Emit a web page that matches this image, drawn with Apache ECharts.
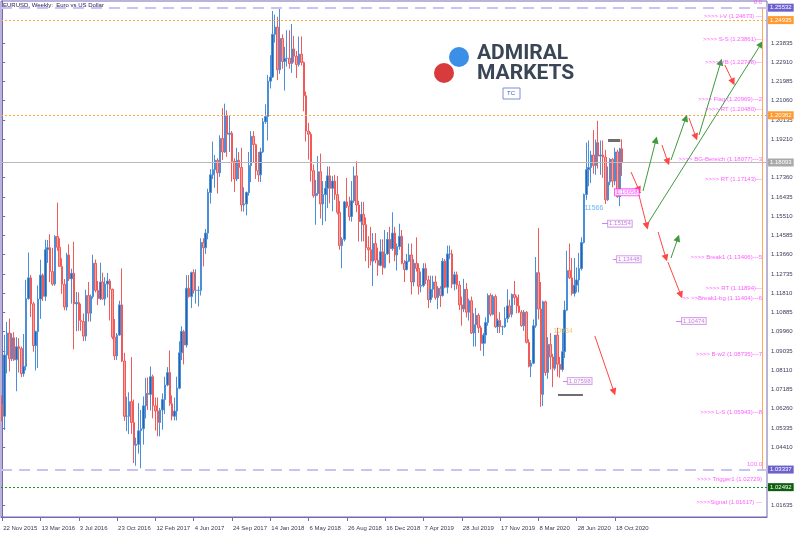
<!DOCTYPE html>
<html><head><meta charset="utf-8">
<script src="https://cdn.jsdelivr.net/npm/echarts@6/dist/echarts.min.js"></script>
<style>html,body{margin:0;padding:0;background:#fff}#c{width:800px;height:536px}</style>
</head><body><div id="c"></div>
<script>
// ---------- DATA ----------
const MONTHS=['Jan','Feb','Mar','Apr','May','Jun','Jul','Aug','Sep','Oct','Nov','Dec'];
const categories=[];
for(let i=0;i<320;i++){const d=new Date(Date.UTC(2015,10,22+7*i));categories.push(d.getUTCDate()+' '+MONTHS[d.getUTCMonth()]+' '+d.getUTCFullYear());}
const xTickLabels=['22 Nov 2015','13 Mar 2016','3 Jul 2016','23 Oct 2016','12 Feb 2017','4 Jun 2017','24 Sep 2017','14 Jan 2018','6 May 2018','26 Aug 2018','16 Dec 2018','7 Apr 2019','28 Jul 2019','17 Nov 2019','8 Mar 2020','28 Jun 2020','18 Oct 2020'];
const yTickValues=[1.01635,1.04410,1.05335,1.06260,1.07185,1.08110,1.09035,1.09960,1.10885,1.11810,1.12735,1.13660,1.14585,1.15510,1.16435,1.17360,1.19210,1.20135,1.21060,1.21985,1.22910,1.23835];

const opens=[
1.0646,1.0590,1.0884,1.0990,1.0866,1.0967,1.0861,1.0924,1.0915,1.0795,
1.0830,1.1155,1.1255,1.1130,1.0930,1.0997,1.1153,1.1268,1.1166,1.1390,
1.1400,1.1285,1.1225,1.1454,1.1402,1.1310,1.1224,1.1115,1.1365,1.1250,
1.1277,1.1130,1.1137,1.1050,1.1045,1.0975,1.1170,1.1085,1.1165,1.1325,
1.1195,1.1155,1.1235,1.1154,1.1225,1.1240,1.1200,1.0970,1.0880,1.0980,
1.1125,1.0855,1.0590,1.0590,1.0660,1.0560,1.0450,1.0455,1.0520,1.0530,
1.0640,1.0700,1.0695,1.0780,1.0640,1.0615,1.0560,1.0620,1.0670,1.0740,
1.0800,1.0650,1.0590,1.0615,1.0725,1.0895,1.0997,1.0932,1.1205,1.1165,
1.1280,1.1195,1.1195,1.1195,1.1425,1.1400,1.1470,1.1665,1.1750,1.1775,
1.1820,1.1760,1.1925,1.1860,1.2035,1.1945,1.1950,1.1815,1.1730,1.1820,
1.1785,1.1605,1.1610,1.1665,1.1795,1.1935,1.1895,1.1770,1.1750,1.1860,
1.2005,1.2030,1.2200,1.2220,1.2425,1.2460,1.2255,1.2405,1.2295,1.2310,
1.2310,1.2285,1.2355,1.2320,1.2280,1.2330,1.2290,1.2130,1.1960,1.1945,
1.1770,1.1650,1.1660,1.1765,1.1610,1.1655,1.1685,1.1745,1.1685,1.1720,
1.1655,1.1570,1.1410,1.1440,1.1620,1.1600,1.1550,1.1625,1.1745,1.1605,
1.1525,1.1560,1.1510,1.1400,1.1390,1.1335,1.1420,1.1340,1.1315,1.1380,
1.1305,1.1370,1.1440,1.1395,1.1470,1.1365,1.1405,1.1455,1.1325,1.1295,
1.1335,1.1365,1.1235,1.1325,1.1300,1.1215,1.1218,1.1300,1.1245,1.1150,
1.1200,1.1235,1.1160,1.1205,1.1170,1.1335,1.1210,1.1370,1.1370,1.1225,
1.1270,1.1220,1.1125,1.1105,1.1200,1.1090,1.1145,1.0990,1.1030,1.1075,
1.1015,1.0940,1.0980,1.1040,1.1170,1.1080,1.1165,1.1020,1.1050,1.1020,
1.1020,1.1060,1.1120,1.1080,1.1175,1.1160,1.1120,1.1090,1.1025,1.1090,
1.0945,1.0830,1.0845,1.1025,1.1280,1.1105,1.0695,1.1140,1.0800,1.0935,
1.0875,1.0820,1.0980,1.0840,1.0815,1.0900,1.1100,1.1290,1.1255,1.1180,
1.1220,1.1245,1.1300,1.1425,1.1655,1.1775,1.1785,1.1845,1.1795,1.1905,
1.1840,1.1845,1.1835,1.1630,1.1715,1.1825,1.1720,1.1860,1.1645,1.1875];
const closes=[
1.0590,1.0884,1.0990,1.0866,1.0967,1.0861,1.0924,1.0915,1.0795,1.0830,
1.1155,1.1255,1.1130,1.0930,1.0997,1.1153,1.1268,1.1166,1.1390,1.1400,
1.1285,1.1225,1.1454,1.1402,1.1310,1.1224,1.1115,1.1365,1.1250,1.1277,
1.1130,1.1137,1.1050,1.1045,1.0975,1.1170,1.1085,1.1165,1.1325,1.1195,
1.1155,1.1235,1.1154,1.1225,1.1240,1.1200,1.0970,1.0880,1.0980,1.1125,
1.0855,1.0590,1.0590,1.0660,1.0560,1.0450,1.0455,1.0520,1.0530,1.0640,
1.0700,1.0695,1.0780,1.0640,1.0615,1.0560,1.0620,1.0670,1.0740,1.0800,
1.0650,1.0590,1.0615,1.0725,1.0895,1.0997,1.0932,1.1205,1.1165,1.1280,
1.1195,1.1195,1.1195,1.1425,1.1400,1.1470,1.1665,1.1750,1.1775,1.1820,
1.1760,1.1925,1.1860,1.2035,1.1945,1.1950,1.1815,1.1730,1.1820,1.1785,
1.1605,1.1610,1.1665,1.1795,1.1935,1.1895,1.1770,1.1750,1.1860,1.2005,
1.2030,1.2200,1.2220,1.2425,1.2460,1.2255,1.2405,1.2295,1.2310,1.2310,
1.2285,1.2355,1.2320,1.2280,1.2330,1.2290,1.2130,1.1960,1.1945,1.1770,
1.1650,1.1660,1.1765,1.1610,1.1655,1.1685,1.1745,1.1685,1.1720,1.1655,
1.1570,1.1410,1.1440,1.1620,1.1600,1.1550,1.1625,1.1745,1.1605,1.1525,
1.1560,1.1510,1.1400,1.1390,1.1335,1.1420,1.1340,1.1315,1.1380,1.1305,
1.1370,1.1440,1.1395,1.1470,1.1365,1.1405,1.1455,1.1325,1.1295,1.1335,
1.1365,1.1235,1.1325,1.1300,1.1215,1.1218,1.1300,1.1245,1.1150,1.1200,
1.1235,1.1160,1.1205,1.1170,1.1335,1.1210,1.1370,1.1370,1.1225,1.1270,
1.1220,1.1125,1.1105,1.1200,1.1090,1.1145,1.0990,1.1030,1.1075,1.1015,
1.0940,1.0980,1.1040,1.1170,1.1080,1.1165,1.1020,1.1050,1.1020,1.1020,
1.1060,1.1120,1.1080,1.1175,1.1160,1.1120,1.1090,1.1025,1.1090,1.0945,
1.0830,1.0845,1.1025,1.1280,1.1105,1.0695,1.1140,1.0800,1.0935,1.0875,
1.0820,1.0980,1.0840,1.0815,1.0900,1.1100,1.1290,1.1255,1.1180,1.1220,
1.1245,1.1300,1.1425,1.1655,1.1775,1.1785,1.1845,1.1795,1.1905,1.1840,
1.1845,1.1835,1.1630,1.1715,1.1825,1.1720,1.1860,1.1645,1.1875,1.1809];
const highs=[
1.0690,1.0981,1.1043,1.1059,1.0988,1.0994,1.0970,1.0965,1.0925,1.0985,
1.1245,1.1377,1.1268,1.1140,1.1001,1.1218,1.1342,1.1276,1.1438,1.1437,
1.1465,1.1399,1.1460,1.1616,1.1445,1.1349,1.1249,1.1375,1.1416,1.1299,
1.1428,1.1187,1.1185,1.1131,1.1084,1.1198,1.1235,1.1175,1.1366,1.1343,
1.1240,1.1328,1.1280,1.1258,1.1279,1.1250,1.1203,1.1057,1.0990,1.1145,
1.1300,1.0895,1.0684,1.0705,1.0874,1.0670,1.0487,1.0653,1.0620,1.0685,
1.0774,1.0776,1.0829,1.0790,1.0680,1.0680,1.0630,1.0700,1.0780,1.0826,
1.0906,1.0690,1.0680,1.0780,1.0950,1.1022,1.1005,1.1268,1.1268,1.1285,
1.1296,1.1296,1.1215,1.1445,1.1445,1.1490,1.1683,1.1777,1.1910,1.1845,
1.1830,1.1940,1.2070,1.2092,1.2060,1.2035,1.1960,1.1830,1.1880,1.1860,
1.1880,1.1690,1.1670,1.1860,1.1960,1.1960,1.1900,1.1860,1.1880,1.2023,
1.2089,1.2230,1.2325,1.2537,1.2520,1.2510,1.2555,1.2425,1.2365,1.2445,
1.2445,1.2475,1.2418,1.2345,1.2415,1.2415,1.2295,1.2150,1.2000,1.1955,
1.1800,1.1725,1.1840,1.1852,1.1720,1.1720,1.1790,1.1790,1.1745,1.1750,
1.1745,1.1625,1.1450,1.1625,1.1735,1.1645,1.1720,1.1790,1.1815,1.1625,
1.1620,1.1620,1.1545,1.1455,1.1500,1.1470,1.1470,1.1400,1.1440,1.1440,
1.1485,1.1475,1.1500,1.1570,1.1500,1.1420,1.1515,1.1485,1.1340,1.1370,
1.1420,1.1420,1.1345,1.1450,1.1325,1.1285,1.1325,1.1325,1.1265,1.1265,
1.1265,1.1265,1.1215,1.1215,1.1350,1.1345,1.1410,1.1410,1.1390,1.1285,
1.1285,1.1240,1.1165,1.1250,1.1230,1.1155,1.1165,1.1085,1.1110,1.1085,
1.1025,1.0990,1.1065,1.1180,1.1180,1.1175,1.1175,1.1060,1.1090,1.1025,
1.1115,1.1200,1.1150,1.1180,1.1240,1.1170,1.1175,1.1100,1.1100,1.1095,
1.0960,1.0860,1.1055,1.1355,1.1495,1.1235,1.1145,1.1145,1.0970,1.0990,
1.0890,1.0975,1.1015,1.0875,1.1010,1.1145,1.1385,1.1420,1.1350,1.1350,
1.1305,1.1375,1.1450,1.1660,1.1905,1.1915,1.1865,1.1965,1.1920,1.2010,
1.1915,1.1915,1.1870,1.1790,1.1830,1.1830,1.1880,1.1870,1.1880,1.1920];
const lows=[
1.0566,1.0524,1.0796,1.0805,1.0855,1.0856,1.0710,1.0800,1.0778,1.0780,
1.0810,1.1150,1.1067,1.0900,1.0810,1.0822,1.1058,1.1144,1.1144,1.1327,
1.1234,1.1217,1.1217,1.1385,1.1311,1.1178,1.1100,1.1098,1.1240,1.1131,
1.0912,1.0998,1.1000,1.1000,1.0951,1.0952,1.1045,1.1045,1.1155,1.1185,
1.1124,1.1147,1.1150,1.1122,1.1160,1.1050,1.0960,1.0860,1.0860,1.0977,
1.0851,1.0568,1.0518,1.0505,1.0505,1.0365,1.0352,1.0410,1.0340,1.0454,
1.0580,1.0620,1.0617,1.0580,1.0521,1.0494,1.0493,1.0525,1.0600,1.0734,
1.0640,1.0570,1.0570,1.0570,1.0720,1.0860,1.0839,1.0920,1.1160,1.1110,
1.1180,1.1131,1.1118,1.1170,1.1310,1.1370,1.1440,1.1612,1.1730,1.1688,
1.1660,1.1740,1.1822,1.1855,1.1837,1.1860,1.1717,1.1668,1.1720,1.1730,
1.1574,1.1573,1.1555,1.1650,1.1715,1.1810,1.1730,1.1717,1.1715,1.1855,
1.1995,1.1915,1.2165,1.2215,1.2385,1.2205,1.2235,1.2260,1.2155,1.2270,
1.2260,1.2240,1.2290,1.2215,1.2270,1.2275,1.2055,1.1910,1.1823,1.1717,
1.1640,1.1510,1.1650,1.1540,1.1508,1.1527,1.1590,1.1613,1.1575,1.1630,
1.1560,1.1390,1.1301,1.1430,1.1590,1.1530,1.1525,1.1615,1.1570,1.1430,
1.1430,1.1430,1.1335,1.1302,1.1315,1.1216,1.1325,1.1265,1.1310,1.1270,
1.1300,1.1365,1.1325,1.1385,1.1335,1.1290,1.1390,1.1320,1.1235,1.1290,
1.1330,1.1175,1.1215,1.1285,1.1175,1.1185,1.1210,1.1225,1.1110,1.1135,
1.1160,1.1150,1.1105,1.1115,1.1165,1.1205,1.1180,1.1345,1.1205,1.1195,
1.1200,1.1100,1.1025,1.1090,1.1065,1.1050,1.0985,1.0925,1.0925,1.0990,
1.0905,1.0879,1.0940,1.1025,1.1070,1.1075,1.1015,1.0990,1.0990,1.0980,
1.1015,1.1040,1.1065,1.1065,1.1125,1.1085,1.1085,1.1020,1.1000,1.0940,
1.0825,1.0778,1.0840,1.1015,1.1055,1.0635,1.0640,1.0785,1.0770,1.0815,
1.0730,1.0810,1.0780,1.0775,1.0805,1.0870,1.1095,1.1250,1.1170,1.1165,
1.1185,1.1185,1.1290,1.1420,1.1630,1.1695,1.1710,1.1755,1.1750,1.1780,
1.1750,1.1735,1.1610,1.1625,1.1700,1.1690,1.1700,1.1640,1.1600,1.1745];

// horizontal price levels (right-axis tags)
const levelPrices=[1.25532,1.24935,1.20362,1.18093,1.03337,1.02492];
const levelKinds=['fib','orange','orange','price','fib','green'];
// fibonacci level captions
const fibCaptions=['0.0','100.0'];
const fibCaptionPrices=[1.25532,1.03337];
// right-hand annotation texts and their anchor prices
const noteTexts=['>>>> i-V (1.24673) ---','>>>> S-S (1.23861)---','>>>> VB (1.22748)---','>>>> Flag (1.20969)---2','>>>> RT (1.20480)---','>>>> BG-Bereich (1.18077)---3','>>>> RT (1.17143)---','>>>> Break1 (1.13406)---5','>>>> RT (1.11894)---','>> >>Break1-bg (1.11404)---6','>>>> B-w2 (1.08735)---7','>>>> L-S (1.05943)---8','>>>> Trigger1 (1.02729)','>>>>Signal (1.01617) ---'];
const notePrices=[1.2499,1.23861,1.22748,1.20969,1.20480,1.18077,1.17143,1.13406,1.11894,1.11404,1.08735,1.05943,1.02729,1.01617];
// boxed price labels: price, week position of box, leading-line start/end
const boxPrices=[1.16658,1.15154,1.13448,1.10474,1.07598];
const boxWeek=[256.0,253.1,256.8,284.0,236.3];
const boxLineFrom=[264.3,250.6,255.1,281.5,234.3];
const boxLineTo=[266.8,253.1,256.8,284.0,236.3];
// free texts
const freeTexts=['11566','10934'];
const freeWeek=[247.2,234.3];
const freePrices=[1.15906,1.09996];
// arrows (week position, price) -> (week position, price)
const arrowX1=[262.7,267.7,275.6,279.4,286.9,291.1,301.9,269.3,266.0,274.0,279.4,278.1,247.6];
const arrowY1=[1.17636,1.16723,1.18934,1.18213,1.20231,1.19414,1.22778,1.15089,1.16531,1.14753,1.13503,1.13311,1.09755];
const arrowX2=[266.0,273.1,278.1,285.6,289.8,300.2,305.3,317.0,269.3,277.3,282.3,283.5,255.6];
const arrowY2=[1.16771,1.19174,1.18117,1.20231,1.19318,1.22922,1.21961,1.23787,1.15041,1.13503,1.14465,1.11725,1.07064];
const arrowDir=['d','u','d','u','d','u','d','u','d','d','u','d','d'];
// short gray marker bars
const barWeekFrom=[253.1,232.2];
const barWeekTo=[258.2,242.6];
const barPrices=[1.19174,1.06920];
// fib vertical connector
const fibVWeek=317.4;

// ---------- CHART ----------
const FONT='"Liberation Sans", Arial, sans-serif';
const chart=echarts.init(document.getElementById('c'),null,{renderer:'canvas'});
const candleData=opens.map((o,i)=>[o,closes[i],Math.min(lows[i],o,closes[i]),Math.max(highs[i],o,closes[i])]);
const tickSet=new Set(xTickLabels);
const tickIdx=(i)=>tickSet.has(categories[i]);

const levelStyle={
  fib:{line:{color:'#c9c2f2',width:2,type:[11,7]},bg:'#6d62cc',fg:'#fff'},
  orange:{line:{color:'#ffa542',width:1,type:[2,2]},bg:'#ff9a30',fg:'#fff'},
  price:{line:{color:'#b9b9b9',width:1,type:'solid'},bg:'#a9a9a9',fg:'#fff'},
  green:{line:{color:'#1f8f1f',width:1,type:[2,2]},bg:'#0d5e0d',fg:'#fff'}
};
const levelLines=levelPrices.map((p,i)=>{const s=levelStyle[levelKinds[i]];return {
  yAxis:p,lineStyle:s.line,
  label:{show:true,position:'end',distance:1,formatter:p.toFixed(5),backgroundColor:s.bg,color:s.fg,fontSize:6,fontFamily:FONT,padding:[1,2,1,2]}
};});

const GREEN='#3f9a3f',GREENH='#0f6f0f',RED='#ff4545';
const annLines=[];
arrowX1.forEach((x,i)=>{const c=arrowDir[i]==='u'?GREEN:RED;const h=arrowDir[i]==='u'?GREENH:'#ff1515';
  annLines.push([{coord:[x,arrowY1[i]],symbol:'none',lineStyle:{color:c,width:1,type:'solid'}},{coord:[arrowX2[i],arrowY2[i]],symbol:'triangle',symbolSize:7,itemStyle:{color:h},lineStyle:{color:c,width:1,type:'solid'}}]);
});
boxPrices.forEach((p,i)=>{annLines.push([{coord:[boxLineFrom[i],p],symbol:'none',lineStyle:{color:i===0?'#e040e0':'#c58be0',width:1,type:'solid'}},{coord:[boxLineTo[i],p],symbol:'none'}]);});
barPrices.forEach((p,i)=>{annLines.push([{coord:[barWeekFrom[i],p],symbol:'none',lineStyle:{color:'#6e6e6e',width:i===0?3:2,type:'solid'}},{coord:[barWeekTo[i],p],symbol:'none'}]);});
annLines.push([{coord:[fibVWeek,fibCaptionPrices[0]],symbol:'none',lineStyle:{color:'#ffaa55',width:1,type:'solid'}},{coord:[fibVWeek,fibCaptionPrices[1]],symbol:'none'}]);

const option={
  animation:false,
  backgroundColor:'#ffffff',
  grid:{left:1,right:33,top:1,bottom:19,show:true,borderColor:'#7468b4',borderWidth:1,backgroundColor:'transparent'},
  xAxis:[{
    type:'category',data:categories,boundaryGap:true,
    axisLine:{show:true,lineStyle:{color:'#7468b4',width:1}},
    axisTick:{show:true,alignWithLabel:true,interval:(i)=>tickIdx(i),length:4,lineStyle:{color:'#7468b4'}},
    axisLabel:{show:true,interval:(i)=>tickIdx(i),align:'left',margin:8,fontSize:6,fontFamily:FONT,color:'#3a3a5a',padding:[0,0,0,1]},
    splitLine:{show:false}
  },{type:'value',min:-0.5,max:319.5,show:false}],
  yAxis:[{
    type:'value',position:'right',min:1.01058,max:1.25853,scale:true,
    axisLine:{show:true,lineStyle:{color:'#7468b4',width:1}},
    axisTick:{show:true,length:3,customValues:yTickValues,lineStyle:{color:'#7468b4'}},
    axisLabel:{show:true,customValues:yTickValues,formatter:(v)=>v.toFixed(5),fontSize:6,fontFamily:FONT,color:'#3a3a5a',margin:4},
    splitLine:{show:false}
  }],
  series:[{
    type:'candlestick',xAxisIndex:0,yAxisIndex:0,data:candleData,barWidth:2,
    itemStyle:{color:'#2563ad',color0:'#f7a1a1',borderColor:'#4a8fd8',borderColor0:'#f25a5a',borderWidth:1},
    markLine:{silent:true,precision:5,symbol:['none','none'],animation:false,data:levelLines},
    z:3
  },{
    type:'line',xAxisIndex:1,yAxisIndex:0,data:[[-10,1.1]],symbol:'none',lineStyle:{opacity:0},silent:true,z:4,
    markLine:{silent:true,precision:5,animation:false,symbol:['none','none'],label:{show:false},data:annLines}
  },{
    type:'scatter',xAxisIndex:1,yAxisIndex:0,symbolSize:0,silent:true,z:5,
    data:notePrices.map((p,i)=>({value:[fibVWeek,p],label:{formatter:noteTexts[i]}})),
    label:{show:true,position:'left',distance:0,offset:[0,-3],color:'#ff33ff',fontSize:6,fontFamily:FONT}
  },{
    type:'scatter',xAxisIndex:1,yAxisIndex:0,symbolSize:0,silent:true,z:5,
    data:fibCaptionPrices.map((p,i)=>({value:[fibVWeek,p],label:{formatter:fibCaptions[i]}})),
    label:{show:true,position:'left',distance:0,offset:[0,-5],color:'#ff44ff',fontSize:6,fontFamily:FONT}
  },{
    type:'scatter',xAxisIndex:1,yAxisIndex:0,symbolSize:0,silent:true,z:6,
    data:boxPrices.map((p,i)=>({value:[boxWeek[i],p],label:{formatter:p.toFixed(5),borderColor:i===0?'#ff33ff':'#cc8fe6',color:i===0?'#ee33ee':'#b460d0'}})),
    label:{show:true,position:'right',distance:0,backgroundColor:'#ffffff',borderWidth:1,padding:[0,1,0,1],fontSize:6,fontFamily:FONT}
  },{
    type:'scatter',xAxisIndex:1,yAxisIndex:0,symbolSize:0,silent:true,z:6,
    data:freePrices.map((p,i)=>({value:[freeWeek[i],p],label:{formatter:freeTexts[i],color:i===0?'#4aa0f0':'#e8c050'}})),
    label:{show:true,position:'inside',fontSize:7,fontFamily:FONT}
  }],
  graphic:[
    {type:'text',left:3,top:2,style:{text:'EURUSD, Weekly:  Euro vs US Dollar',font:'6px '+FONT,fill:'#1c1c55'},z:10},
    {type:'circle',shape:{cx:459,cy:57,r:10},style:{fill:'#3b8fe6'},z:10},
    {type:'circle',shape:{cx:444,cy:73,r:10},style:{fill:'#d83b3b'},z:10},
    {type:'text',left:477,top:43,style:{text:'ADMIRAL',font:'bold 21px Roboto',fill:'#3a4656'},z:10},
    {type:'text',left:477,top:63,style:{text:'MARKETS',font:'bold 21px Roboto',fill:'#3a4656'},z:10},
    {type:'rect',shape:{x:503,y:88,width:17,height:11},style:{fill:'#fff',stroke:'#7a90d8',lineWidth:1},z:10},
    {type:'text',left:507,top:90,style:{text:'TC',font:'6px '+FONT,fill:'#3c5cc0'},z:11}
  ]
};
chart.setOption(option);
</script></body></html>
